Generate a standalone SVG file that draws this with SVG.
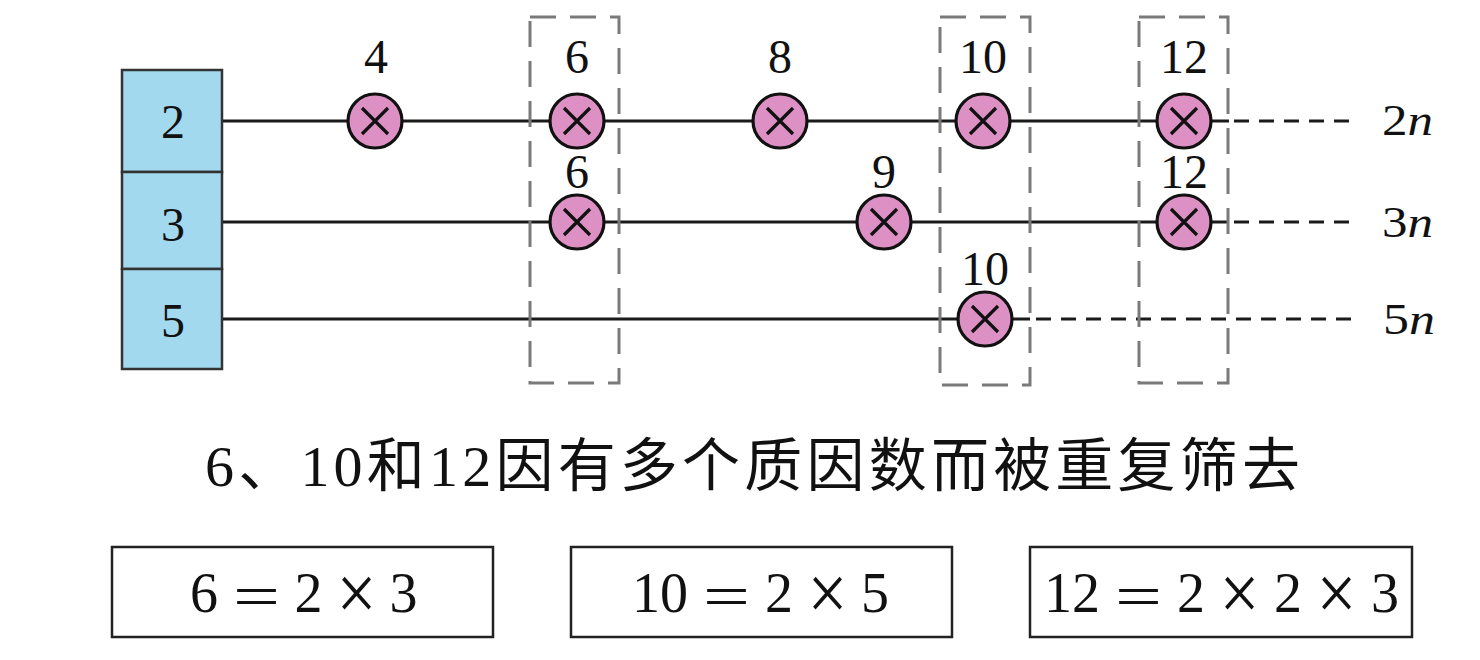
<svg xmlns="http://www.w3.org/2000/svg" width="1480" height="660" viewBox="0 0 1480 660">
<defs>
<style>
text{font-family:'Liberation Serif','Times New Roman',Tinos,'DejaVu Serif','Noto Serif',serif}
.num{fill:#111;text-anchor:middle}
.lbl{font-size:48px}
.side{font-size:44px;text-anchor:start}
.row{stroke:#1a1a1a;stroke-width:3.2;fill:none}
.dash{stroke:#1a1a1a;stroke-width:3.2;stroke-dasharray:15 10;fill:none}
.grp{stroke:#7a7a7a;stroke-width:3;stroke-dasharray:26 14;fill:none}
.cell{fill:#a3d9ef;stroke:#333;stroke-width:2.5}
.eqbox{fill:#fff;stroke:#222;stroke-width:2.5}
.eq{font-size:56px}
.eqs{font-size:60px}
.tim{font-size:80px}
text.cap{font-family:'Liberation Serif','Times New Roman','Noto Sans CJK SC',serif;font-size:58px;fill:#111}
</style>
<g id="mark">
<circle cx="0" cy="0" r="27" fill="#dc90c3" stroke="#111" stroke-width="3.2"/>
<path d="M-13,-13 L13,13 M13,-13 L-13,13" stroke="#111" stroke-width="3.2" fill="none"/>
</g>
</defs>
<rect width="1480" height="660" fill="#fff"/>

<g id="connectors">
<line class="row" x1="222" y1="121" x2="1229" y2="121"/>
<line class="dash" x1="1234" y1="121" x2="1356" y2="121"/>
<line class="row" x1="222" y1="222" x2="1229" y2="222"/>
<line class="dash" x1="1234" y1="222" x2="1356" y2="222"/>
<line class="row" x1="222" y1="319" x2="1030" y2="319"/>
<line class="dash" x1="1036" y1="319" x2="1356" y2="319"/>
</g>

<g id="groups">
<rect class="grp" x="530" y="17" width="89" height="366"/>
<rect class="grp" x="940" y="17" width="90" height="368"/>
<rect class="grp" x="1139" y="17" width="89" height="366"/>
</g>

<g id="primes">
<g id="p2"><rect class="cell" x="122" y="70" width="100" height="102"/><text class="num lbl" x="173" y="138">2</text></g>
<g id="p3"><rect class="cell" x="122" y="172" width="100" height="97"/><text class="num lbl" x="173" y="241">3</text></g>
<g id="p5"><rect class="cell" x="122" y="269" width="100" height="100"/><text class="num lbl" x="173" y="337">5</text></g>
</g>

<g id="r2-4"><use href="#mark" x="375" y="121"/><text class="num lbl" x="376" y="73">4</text></g>
<g id="r2-6"><use href="#mark" x="577" y="121"/><text class="num lbl" x="577" y="73">6</text></g>
<g id="r2-8"><use href="#mark" x="780" y="121"/><text class="num lbl" x="780" y="73">8</text></g>
<g id="r2-10"><use href="#mark" x="983" y="121"/><text class="num lbl" x="983" y="73">10</text></g>
<g id="r2-12"><use href="#mark" x="1184" y="121"/><text class="num lbl" x="1184" y="73">12</text></g>

<g id="r3-6"><use href="#mark" x="577" y="222"/><text class="num lbl" x="577" y="188">6</text></g>
<g id="r3-9"><use href="#mark" x="884" y="222"/><text class="num lbl" x="884" y="188">9</text></g>
<g id="r3-12"><use href="#mark" x="1184" y="222"/><text class="num lbl" x="1184" y="188">12</text></g>

<g id="r5-10"><use href="#mark" x="985" y="319"/><text class="num lbl" x="985" y="285">10</text></g>

<g id="side-labels">
<text class="num side" x="1382" y="135" textLength="51" lengthAdjust="spacingAndGlyphs">2<tspan font-style="italic">n</tspan></text>
<text class="num side" x="1382" y="237" textLength="51" lengthAdjust="spacingAndGlyphs">3<tspan font-style="italic">n</tspan></text>
<text class="num side" x="1383" y="334" textLength="52" lengthAdjust="spacingAndGlyphs">5<tspan font-style="italic">n</tspan></text>
</g>

<g id="caption">
<text class="cap" x="205" y="486" textLength="1095" lengthAdjust="spacing">6、10和12因有多个质因数而被重复筛去</text>
</g>

<g id="eq6">
<rect class="eqbox" x="112" y="547" width="381" height="90"/>
<text class="num eq" x="204" y="612">6</text>
<text class="num eqs" x="256.5" y="616" textLength="47" lengthAdjust="spacingAndGlyphs">=</text>
<text class="num eq" x="308.5" y="612">2</text>
<text class="num tim" x="356.5" y="620" textLength="40" lengthAdjust="spacingAndGlyphs">×</text>
<text class="num eq" x="403.5" y="612">3</text>
</g>
<g id="eq10">
<rect class="eqbox" x="571" y="547" width="381" height="90"/>
<text class="num eq" x="660" y="612">10</text>
<text class="num eqs" x="726.5" y="616" textLength="47" lengthAdjust="spacingAndGlyphs">=</text>
<text class="num eq" x="779" y="612">2</text>
<text class="num tim" x="827.5" y="620" textLength="40" lengthAdjust="spacingAndGlyphs">×</text>
<text class="num eq" x="875" y="612">5</text>
</g>
<g id="eq12">
<rect class="eqbox" x="1030" y="547" width="382" height="90"/>
<text class="num eq" x="1072" y="612">12</text>
<text class="num eqs" x="1138.5" y="616" textLength="47" lengthAdjust="spacingAndGlyphs">=</text>
<text class="num eq" x="1191" y="612">2</text>
<text class="num tim" x="1239.5" y="620" textLength="40" lengthAdjust="spacingAndGlyphs">×</text>
<text class="num eq" x="1288" y="612">2</text>
<text class="num tim" x="1336.5" y="620" textLength="40" lengthAdjust="spacingAndGlyphs">×</text>
<text class="num eq" x="1385" y="612">3</text>
</g>
</svg>
